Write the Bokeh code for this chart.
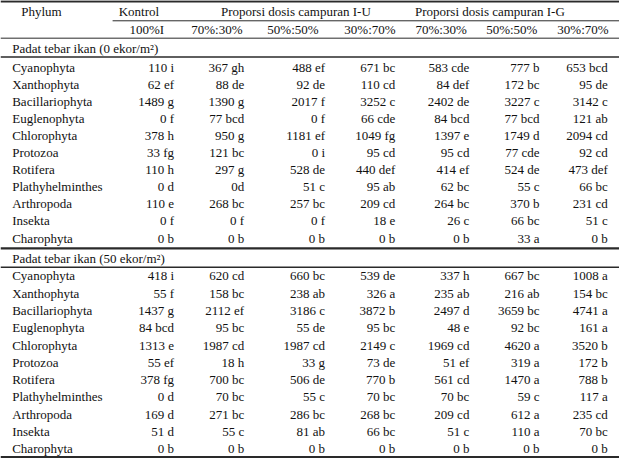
from bokeh.plotting import figure
from bokeh.models import Range1d, ColumnDataSource
from bokeh.core.properties import value
from bokeh.embed import file_html
from bokeh.resources import INLINE

# ---------------- data ----------------
phyla = ["Cyanophyta", "Xanthophyta", "Bacillariophyta", "Euglenophyta", "Chlorophyta",
         "Protozoa", "Rotifera", "Plathyhelminthes", "Arthropoda", "Insekta", "Charophyta"]

header_top = ["Phylum", "Kontrol", "Proporsi dosis campuran I-U", "Proporsi dosis campuran I-G"]
dose_labels = ["100%I", "70%:30%", "50%:50%", "30%:70%", "70%:30%", "50%:50%", "30%:70%"]

group_titles = ["Padat tebar ikan (0 ekor/m\u00b2)", "Padat tebar ikan (50 ekor/m\u00b2)"]

# group 1: 0 ekor/m2  (columns: Kontrol, I-U 70:30, 50:50, 30:70, I-G 70:30, 50:50, 30:70)
g0_cyanophyta       = ["110 i", "367 gh", "488 ef", "671 bc", "583 cde", "777 b", "653 bcd"]
g0_xanthophyta      = ["62 ef", "88 de", "92 de", "110 cd", "84 def", "172 bc", "95 de"]
g0_bacillariophyta  = ["1489 g", "1390 g", "2017 f", "3252 c", "2402 de", "3227 c", "3142 c"]
g0_euglenophyta     = ["0 f", "77 bcd", "0 f", "66 cde", "84 bcd", "77 bcd", "121 ab"]
g0_chlorophyta      = ["378 h", "950 g", "1181 ef", "1049 fg", "1397 e", "1749 d", "2094 cd"]
g0_protozoa         = ["33 fg", "121 bc", "0 i", "95 cd", "95 cd", "77 cde", "92 cd"]
g0_rotifera         = ["110 h", "297 g", "528 de", "440 def", "414 ef", "524 de", "473 def"]
g0_plathyhelminthes = ["0 d", "0d", "51 c", "95 ab", "62 bc", "55 c", "66 bc"]
g0_arthropoda       = ["110 e", "268 bc", "257 bc", "209 cd", "264 bc", "370 b", "231 cd"]
g0_insekta          = ["0 f", "0 f", "0 f", "18 e", "26 c", "66 bc", "51 c"]
g0_charophyta       = ["0 b", "0 b", "0 b", "0 b", "0 b", "33 a", "0 b"]

# group 2: 50 ekor/m2
g1_cyanophyta       = ["418 i", "620 cd", "660 bc", "539 de", "337 h", "667 bc", "1008 a"]
g1_xanthophyta      = ["55 f", "158 bc", "238 ab", "326 a", "235 ab", "216 ab", "154 bc"]
g1_bacillariophyta  = ["1437 g", "2112 ef", "3186 c", "3872 b", "2497 d", "3659 bc", "4741 a"]
g1_euglenophyta     = ["84 bcd", "95 bc", "55 de", "95 bc", "48 e", "92 bc", "161 a"]
g1_chlorophyta      = ["1313 e", "1987 cd", "1987 cd", "2149 c", "1969 cd", "4620 a", "3520 b"]
g1_protozoa         = ["55 ef", "18 h", "33 g", "73 de", "51 ef", "319 a", "172 b"]
g1_rotifera         = ["378 fg", "700 bc", "506 de", "770 b", "561 cd", "1470 a", "788 b"]
g1_plathyhelminthes = ["0 d", "70 bc", "55 c", "70 bc", "70 bc", "59 c", "117 a"]
g1_arthropoda       = ["169 d", "271 bc", "286 bc", "268 bc", "209 cd", "612 a", "235 cd"]
g1_insekta          = ["51 d", "55 c", "81 ab", "66 bc", "51 c", "110 a", "70 bc"]
g1_charophyta       = ["0 b", "0 b", "0 b", "0 b", "0 b", "0 b", "0 b"]

group_rows = [
    [g0_cyanophyta, g0_xanthophyta, g0_bacillariophyta, g0_euglenophyta, g0_chlorophyta,
     g0_protozoa, g0_rotifera, g0_plathyhelminthes, g0_arthropoda, g0_insekta, g0_charophyta],
    [g1_cyanophyta, g1_xanthophyta, g1_bacillariophyta, g1_euglenophyta, g1_chlorophyta,
     g1_protozoa, g1_rotifera, g1_plathyhelminthes, g1_arthropoda, g1_insekta, g1_charophyta],
]

# ---------------- layout (reference pixel space) ----------------
W, H = 635, 474
FONT = value("Liberation Serif")
FS = "13px"
TXT = "#111111"
RULE = "#2a2a2a"

col_right = [178, 250, 333, 405, 481, 553, 623]
col_center = [150, 222, 300, 379, 452, 524.5, 597.5]
top_center = [42, 142, 303, 502]
name_x = 12

group_title_y = [50, 267]
group_first_y = [69.3, 285.0]
group_step = [17.65, 17.9]

p = figure(width=619, height=458, output_backend="svg", toolbar_location=None,
           x_range=Range1d(0, W), y_range=Range1d(H, 0), min_border=0,
           background_fill_color="white", border_fill_color="white")
p.axis.visible = False
p.grid.visible = False
p.outline_line_color = None

def put(xs, ys, texts, align):
    src = ColumnDataSource(dict(x=xs, y=ys, t=texts))
    p.text(x="x", y="y", text="t", source=src, text_font=FONT, text_font_size=FS,
           text_color=TXT, text_align=align, text_baseline="middle")

# header row 1
put([top_center[0]], [11.5], [header_top[0]], "center")
put(top_center[1:], [11.5] * 3, header_top[1:], "center")
# header row 2
put(col_center, [30] * len(dose_labels), dose_labels, "center")

# groups
for g in range(2):
    put([name_x], [group_title_y[g]], [group_titles[g]], "left")
    ys = [group_first_y[g] + i * group_step[g] for i in range(len(phyla))]
    put([name_x] * len(phyla), ys, phyla, "left")
    rows = group_rows[g]
    for c in range(len(col_right)):
        put([col_right[c]] * len(phyla), ys, [r[c] for r in rows], "right")

# rules
rules = [  # x0, x1, y, width
    (0, W, 1.0, 2.2),
    (115, W, 21.0, 1.0),
    (0, W, 39.0, 1.0),
    (0, W, 58.5, 1.6),
    (0, W, 256.5, 2.2),
    (0, W, 276.0, 1.6),
    (0, W, 472.5, 2.2),
]
for x0, x1, y, w in rules:
    p.segment(x0=[x0], y0=[y], x1=[x1], y1=[y], line_color=RULE, line_width=w)

open("out.html", "w").write(file_html(p, INLINE))
